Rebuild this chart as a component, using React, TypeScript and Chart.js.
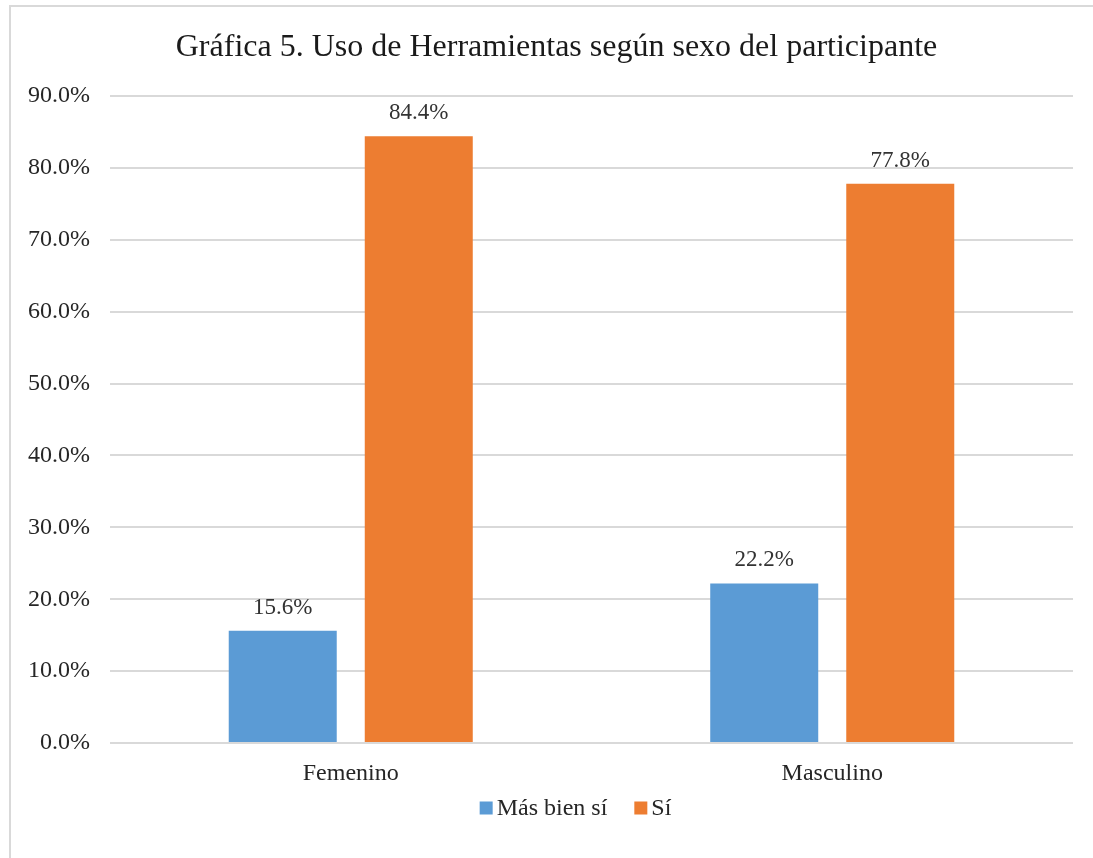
import React, { useEffect, useRef } from "react";
import { Chart, registerables } from "chart.js";

Chart.register(...registerables);

const categories = ["Femenino", "Masculino"];
const seriesNames = ["Más bien sí", "Sí"];
const masBienSi = [15.6, 22.2];
const si = [84.4, 77.8];
const yTicks = [0, 10, 20, 30, 40, 50, 60, 70, 80, 90];
const colors = ["#5B9BD5", "#ED7D31"];
const titleText = "Gráfica 5. Uso de Herramientas según sexo del participante";

const FONT = "'Liberation Serif', 'Times New Roman', serif";

const dataLabelPlugin = {
  id: "dataLabels",
  afterDatasetsDraw(chart: any) {
    const ctx = chart.ctx;
    ctx.save();
    ctx.font = `23px ${FONT}`;
    ctx.fillStyle = "#333333";
    ctx.textAlign = "center";
    ctx.textBaseline = "alphabetic";
    chart.data.datasets.forEach((ds: any, i: number) => {
      const meta = chart.getDatasetMeta(i);
      meta.data.forEach((bar: any, j: number) => {
        ctx.fillText(ds.data[j].toFixed(1) + "%", bar.x, bar.y - 17);
      });
    });
    ctx.restore();
  },
};

const titleLegendPlugin = {
  id: "titleLegend",
  afterDraw(chart: any) {
    const ctx = chart.ctx;
    const area = chart.chartArea;
    ctx.save();
    // title
    ctx.font = `32px ${FONT}`;
    ctx.fillStyle = "#1a1a1a";
    ctx.textAlign = "center";
    ctx.textBaseline = "alphabetic";
    ctx.fillText(titleText, (area.left + area.right) / 2 - 35, area.top - 40);
    // legend
    ctx.font = `24px ${FONT}`;
    ctx.textAlign = "left";
    ctx.textBaseline = "middle";
    const box = 13;
    const boxGap = 4;
    const itemGap = 27;
    const items = chart.data.datasets.map((ds: any) => ({
      text: ds.label,
      color: ds.backgroundColor,
      w: ctx.measureText(ds.label).width,
    }));
    const total = items.reduce((s: number, it: any, i: number) => s + box + boxGap + it.w + (i > 0 ? itemGap : 0), 0);
    let x = (area.left + area.right) / 2 - 16 - total / 2;
    const cy = area.bottom + 65;
    items.forEach((it: any) => {
      ctx.fillStyle = it.color;
      ctx.fillRect(x, cy - box / 2, box, box);
      x += box + boxGap;
      ctx.fillStyle = "#262626";
      ctx.fillText(it.text, x, cy + 1);
      x += it.w + itemGap;
    });
    ctx.restore();
  },
};

export default function App() {
  const ref = useRef<HTMLCanvasElement>(null);
  useEffect(() => {
    if (!ref.current) return;
    const chart = new Chart(ref.current, {
      type: "bar",
      data: {
        labels: categories,
        datasets: [
          { label: seriesNames[0], data: masBienSi, backgroundColor: colors[0] },
          { label: seriesNames[1], data: si, backgroundColor: colors[1] },
        ],
      },
      plugins: [dataLabelPlugin, titleLegendPlugin],
      options: {
        animation: false,
        responsive: false,
        maintainAspectRatio: false,
        layout: { padding: { top: 96, left: 10, right: 20, bottom: 65 } },
        datasets: { bar: { categoryPercentage: 0.565, barPercentage: 0.794 } },
        plugins: {
          title: { display: false },
          legend: { display: false },
          tooltip: { enabled: false },
        },
        scales: {
          x: {
            grid: { display: false, drawTicks: false },
            border: { display: false },
            ticks: { color: "#262626", font: { family: FONT, size: 24 }, padding: 16 },
            afterFit: (scale: any) => {
              scale.height = 50;
            },
          },
          y: {
            min: 0,
            max: 90,
            afterBuildTicks: (scale: any) => {
              scale.ticks = yTicks.map((v) => ({ value: v }));
            },
            afterFit: (scale: any) => {
              scale.width = 100;
            },
            grid: { color: "#d9d9d9", lineWidth: 2, drawTicks: false },
            border: { display: false },
            ticks: {
              color: "#262626",
              font: { family: FONT, size: 24 },
              padding: 20,
              callback: (v: any) => Number(v).toFixed(1) + "%",
            },
          },
        },
      },
    });
    return () => chart.destroy();
  }, []);
  return (
    <div style={{ position: "absolute", left: 0, top: 0, width: 1093, height: 858, background: "#fff", overflow: "hidden" }}>
      <div
        style={{
          position: "absolute",
          left: 9,
          top: 5,
          width: 1200,
          height: 1000,
          borderLeft: "2px solid #d9d9d9",
          borderTop: "2px solid #d9d9d9",
        }}
      />
      <canvas ref={ref} width={1093} height={858} style={{ position: "absolute", left: 0, top: 0 }} />
    </div>
  );
}
